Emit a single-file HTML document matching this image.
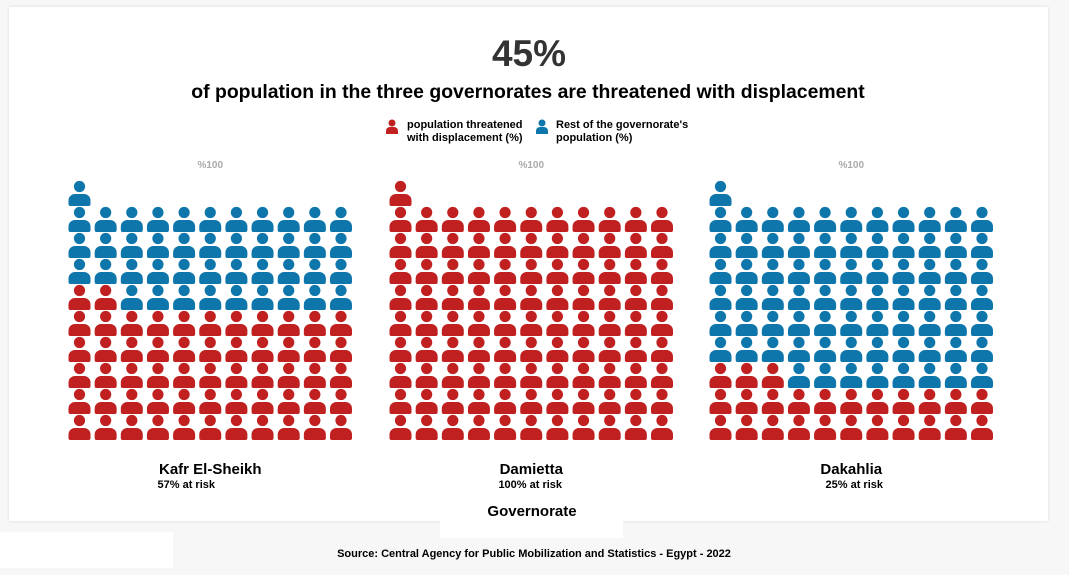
<!DOCTYPE html>
<html><head><meta charset="utf-8"><style>
body{margin:0;width:1069px;height:575px;background:#f7f7f7;font-family:"Liberation Sans",sans-serif;overflow:hidden;position:relative}
.card{position:absolute;left:9px;top:7px;width:1039px;height:514px;background:#fff;box-shadow:0 0 3px rgba(0,0,0,.12)}
.t{position:absolute;white-space:nowrap;font-weight:bold;transform:translateX(-50%)}
</style></head><body>
<div class="card"></div>
<div style="position:absolute;left:440px;top:500px;width:183px;height:38px;background:#fff"></div>
<div style="position:absolute;left:0;top:532px;width:173px;height:36px;background:#fff"></div>
<div class="t" style="left:529px;top:33px;font-size:37px;color:#333">45%</div>
<div class="t" style="left:528px;top:81px;font-size:19.4px;color:#000">of population in the three governorates are threatened with displacement</div>
<div class="t" style="left:532px;top:503px;font-size:15px;color:#000">Governorate</div>
<div class="t" style="left:534px;top:548px;font-size:11px;color:#000">Source: Central Agency for Public Mobilization and Statistics - Egypt - 2022</div>
<svg id="s" width="1069" height="575" style="position:absolute;left:0;top:0">
<g font-family="Liberation Sans" font-weight="bold" font-size="11">
<g>
<circle cx="392" cy="123" r="3.5" fill="#c0201f"/><path d="M386,134 v-3 a4,4 0 0 1 4,-4 h4 a4,4 0 0 1 4,4 v3 z" fill="#c0201f"/>
<text x="407" y="128">population threatened</text><text x="407" y="141">with displacement (%)</text></g>
<g>
<circle cx="542" cy="123" r="3.5" fill="#0e76aa"/><path d="M536,134 v-3 a4,4 0 0 1 4,-4 h4 a4,4 0 0 1 4,4 v3 z" fill="#0e76aa"/>
<text x="556" y="128">Rest of the governorate's</text><text x="556" y="141">population (%)</text></g>
</g>
</svg>
<script>
const governorates=["Kafr El-Sheikh","Damietta","Dakahlia"];
const atRiskPct=[57,100,25];
const subLabels=["57% at risk","100% at risk","25% at risk"];
const totalLabel="%100";
const RED="#c0201f",BLUE="#0e76aa",NS="http://www.w3.org/2000/svg";
const svg=document.getElementById('s');
const gx0=[79.5,400.5,720.5],dx=26.15,dy=26,topHead=186.5,cols=11;
function icon(g,cx,cy,col){
  const c=document.createElementNS(NS,'circle');c.setAttribute('cx',cx);c.setAttribute('cy',cy);c.setAttribute('r',5.6);c.setAttribute('fill',col);g.appendChild(c);
  const p=document.createElementNS(NS,'path');
  const x=cx-11,y=cy+7.5,w=22,h=12,r=6.5,b=2;
  p.setAttribute('d',`M${x},${y+h-b} V${y+r} A${r},${r} 0 0 1 ${x+r},${y} H${x+w-r} A${r},${r} 0 0 1 ${x+w},${y+r} V${y+h-b} Q${x+w},${y+h} ${x+w-b},${y+h} H${x+b} Q${x},${y+h} ${x},${y+h-b} Z`);
  p.setAttribute('fill',col);g.appendChild(p);
}
governorates.forEach((name,gi)=>{
  const g=document.createElementNS(NS,'g');
  
  
  svg.appendChild(g);
  const red=atRiskPct[gi];
  for(let i=0;i<100;i++){
    let cx,cy;
    if(i<99){const row=Math.floor(i/cols),c=i%cols;cx=gx0[gi]+c*dx;cy=topHead+dy*(9-row);}
    else{cx=gx0[gi];cy=topHead;}
    const ig=document.createElementNS(NS,'g');
    
    
    g.appendChild(ig);
    icon(ig,cx,cy,i<red?RED:BLUE);
  }
  const cxm=gx0[gi]+dx*5;
  const t=document.createElementNS(NS,'text');t.setAttribute('x',cxm);t.setAttribute('y',168);t.setAttribute('text-anchor','middle');t.setAttribute('font-family','Liberation Sans');t.setAttribute('font-size','10');t.setAttribute('font-weight','bold');t.setAttribute('fill','#aaa');t.textContent=totalLabel;
  
  
  svg.appendChild(t);
  const n=document.createElementNS(NS,'text');n.setAttribute('x',cxm);n.setAttribute('y',474);n.setAttribute('text-anchor','middle');n.setAttribute('font-family','Liberation Sans');n.setAttribute('font-size','15');n.setAttribute('font-weight','bold');n.textContent=name;
  
  
  svg.appendChild(n);
  const s=document.createElementNS(NS,'text');s.setAttribute('x',cxm-(gi==0?24:gi==1?1:-3));s.setAttribute('y',488);s.setAttribute('text-anchor','middle');s.setAttribute('font-family','Liberation Sans');s.setAttribute('font-size','11');s.setAttribute('font-weight','bold');s.textContent=subLabels[gi];
  
  
  svg.appendChild(s);
});
</script>
</body></html>
